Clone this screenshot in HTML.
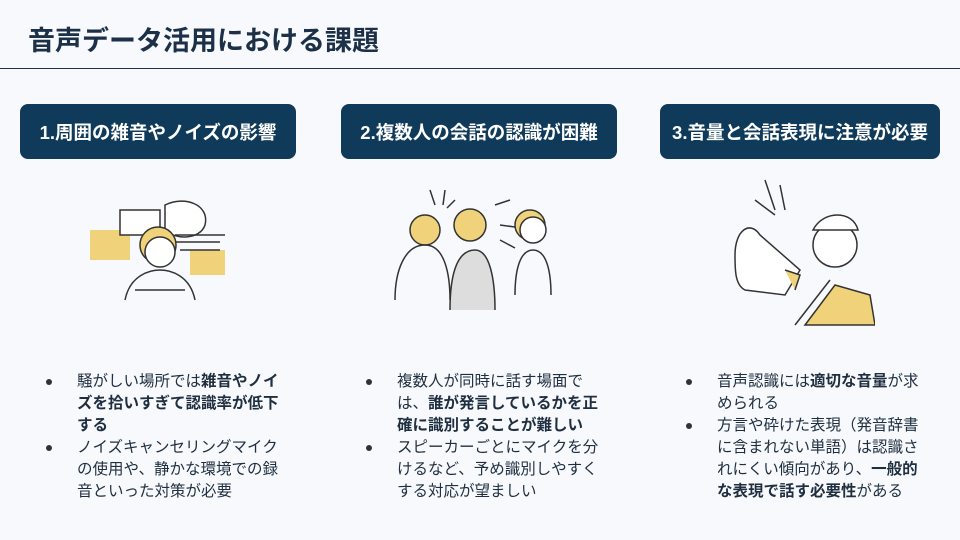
<!DOCTYPE html>
<html><head><meta charset="utf-8"><style>
body{margin:0;width:960px;height:540px;background:#f7f9fc;font-family:"Liberation Sans","Noto Sans CJK JP",sans-serif;position:relative;overflow:hidden;color:#1f2f40}
.t{position:absolute;left:28px;top:19px;font-size:27px;font-weight:bold;color:#1c3048}
.hr{position:absolute;left:0;top:68px;width:960px;height:1px;background:#1c3048}
.b{position:absolute;top:104px;height:55px;background:#103a5a;border-radius:8px;color:#fff;font-weight:bold;font-size:18.5px;display:flex;align-items:center;justify-content:center}
ul{position:absolute;top:371px;margin:0;padding:0;list-style:none;font-size:15.5px;line-height:22px;width:205px}
li{position:relative;padding-left:0}
li:before{content:"";position:absolute;left:-31px;top:8px;width:6px;height:6px;border-radius:50%;background:#333}
b{font-weight:bold}
svg{position:absolute}
</style></head><body>
<div class="t">音声データ活用における課題</div>
<div class="hr"></div>
<div class="b" style="left:20px;width:276px">1.周囲の雑音やノイズの影響</div>
<div class="b" style="left:341px;width:276px">2.複数人の会話の認識が困難</div>
<div class="b" style="left:660px;width:280px">3.音量と会話表現に注意が必要</div>

<svg style="left:80px;top:190px" width="160" height="120" viewBox="0 0 160 120" fill="none" stroke="#333" stroke-width="1.5">
<rect x="10" y="40" width="40" height="30" fill="#f0d27a" stroke="none"/>
<rect x="110" y="60" width="35" height="25" fill="#f0d27a" stroke="none"/>
<path d="M40 20h40v25h-40z M85 15c20-10 45 0 40 20c-5 15-30 15-40 5z" fill="#fff"/>
<path d="M95 45h50M95 52h45M100 60h40"/>
<circle cx="78" cy="55" r="18" fill="#f0d27a"/>
<circle cx="80" cy="62" r="15" fill="#fff"/>
<path d="M45 110c5-25 25-30 35-30s30 5 35 30M55 100l50 0"/>
</svg>

<svg style="left:385px;top:185px" width="190" height="140" viewBox="0 0 190 140" fill="none" stroke="#333" stroke-width="1.5">
<path d="M45 5l5 15M60 5l-2 15M70 15l-8 8M110 20l15-5M115 40l15 2M115 55l15 8"/>
<circle cx="40" cy="45" r="15" fill="#f0d27a"/>
<circle cx="85" cy="40" r="16" fill="#f0d27a"/>
<circle cx="145" cy="40" r="15" fill="#f0d27a"/>
<circle cx="148" cy="45" r="13" fill="#fff"/>
<path d="M65 125c0-30 5-60 25-60c15 0 20 30 20 60" fill="#ddd"/>
<path d="M10 115c0-30 10-55 30-55s25 30 25 55M130 110c0-25 5-45 18-45s18 20 18 45"/>
</svg>

<svg style="left:725px;top:175px" width="150" height="155" viewBox="0 0 150 155" fill="none" stroke="#333" stroke-width="1.5">
<path d="M40 5l10 30M55 10l5 25M30 25l20 15"/>
<path d="M10 80c0-25 15-35 25-20l40 35l-15 25l-40-5c-10-5-10-20-10-35z" fill="#fff"/>
<path d="M60 95l15 5l-5 15" fill="#f0d27a"/>
<circle cx="110" cy="70" r="22" fill="#fff"/>
<path d="M88 55c10-20 40-20 45 0z" fill="#fff"/>
<path d="M80 150l30-40l35 10l5 30z" fill="#f0d27a"/>
<path d="M70 150l35-45"/>
</svg>

<ul style="left:77px">
<li>騒がしい場所では<b>雑音やノイズを拾いすぎて認識率が低下する</b></li>
<li>ノイズキャンセリングマイクの使用や、静かな環境での録音といった対策が必要</li>
</ul>
<ul style="left:397px">
<li>複数人が同時に話す場面では、<b>誰が発言しているかを正確に識別することが難しい</b></li>
<li>スピーカーごとにマイクを分けるなど、予め識別しやすくする対応が望ましい</li>
</ul>
<ul style="left:717px">
<li>音声認識には<b>適切な音量</b>が求められる</li>
<li>方言や砕けた表現（発音辞書に含まれない単語）は認識されにくい傾向があり、<b>一般的な表現で話す必要性</b>がある</li>
</ul>
</body></html>
